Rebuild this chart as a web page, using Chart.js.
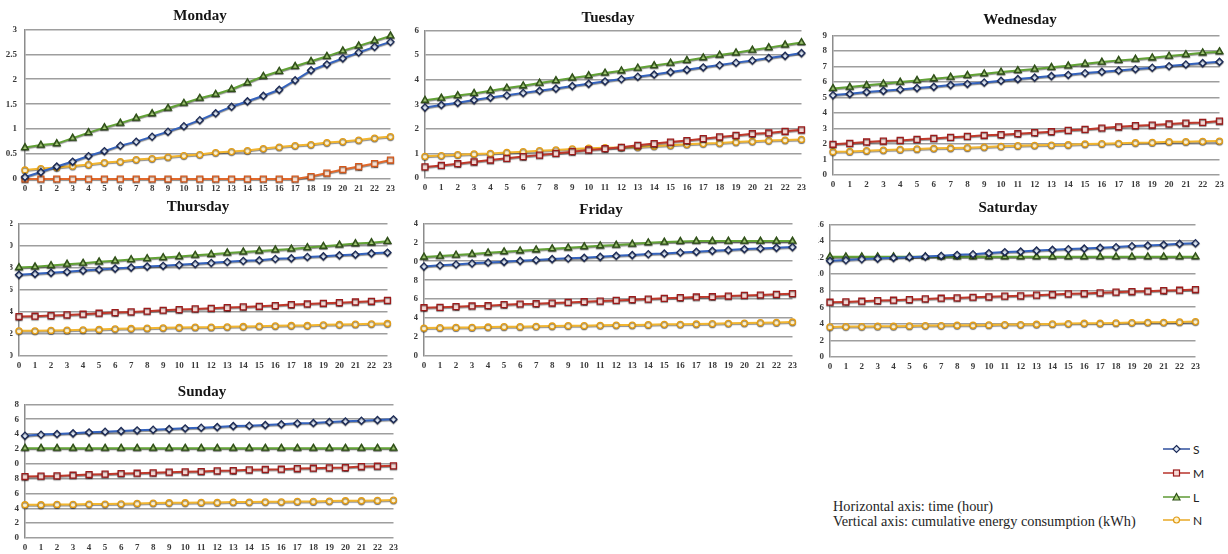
<!DOCTYPE html>
<html>
<head>
<meta charset="utf-8">
<script src="https://cdn.jsdelivr.net/npm/chart.js@4/dist/chart.umd.min.js"></script>
<style>
  html, body { margin: 0; padding: 0; background: #fff; }
  body { width: 1228px; height: 554px; position: relative; overflow: hidden; }
  .panel { position: absolute; overflow: hidden; }
  .panel canvas { position: absolute; top: 0; }
  .title { position: absolute; width: 200px; text-align: center; font: bold 15px/18px "Liberation Serif", "Times New Roman", serif; color: #151515; white-space: nowrap; }
  .note { position: absolute; left: 833px; font: 14.3px "Liberation Serif", "Times New Roman", serif; color: #1e1e1e; white-space: nowrap; line-height: 15px; }
  .key { position: absolute; left: 1163px; height: 14px; display: flex; align-items: center; }
  .key svg { display: block; }
  .key span { margin-left: 3px; font: 12px Lato, "Liberation Sans", sans-serif; color: #222; }
</style>
</head>
<body>
<div id="charts"></div>

<div class="note" style="top:499px">Horizontal axis: time (hour)</div>
<div class="note" style="top:514px">Vertical axis: cumulative energy consumption (kWh)</div>

<div class="key" style="top:442px">
  <svg width="27" height="12"><line x1="0" y1="6" x2="27" y2="6" stroke="#2F4F9E" stroke-width="1.5"/><path d="M13.5 2.5 L17 6 L13.5 9.5 L10 6 Z" fill="#DCE6F5" stroke="#1B2A57" stroke-width="1.2"/></svg><span>S</span>
</div>
<div class="key" style="top:466px">
  <svg width="27" height="12"><line x1="0" y1="6" x2="27" y2="6" stroke="#B8332B" stroke-width="1.5"/><rect x="10.5" y="3" width="6" height="6" fill="#F6D9D5" stroke="#9B1B1B" stroke-width="1.2"/></svg><span>M</span>
</div>
<div class="key" style="top:490px">
  <svg width="27" height="12"><line x1="0" y1="6" x2="27" y2="6" stroke="#5E9A35" stroke-width="1.5"/><path d="M13.5 2.5 L17 9 L10 9 Z" fill="#A9D37A" stroke="#2F5117" stroke-width="1.2"/></svg><span>L</span>
</div>
<div class="key" style="top:513px">
  <svg width="27" height="12"><line x1="0" y1="6" x2="27" y2="6" stroke="#E9A825" stroke-width="1.5"/><circle cx="13.5" cy="6" r="3" fill="#FFF3CF" stroke="#E09A14" stroke-width="1.2"/></svg><span>N</span>
</div>

<script>
// Hour of day on the horizontal axis
const hours = ['0','1','2','3','4','5','6','7','8','9','10','11','12','13','14','15','16','17','18','19','20','21','22','23'];
const seriesNames = ['S', 'M', 'L', 'N'];

// Cumulative energy consumption (kWh), one array per day and series
const mondayS = [0.04,0.14,0.25,0.35,0.46,0.56,0.67,0.75,0.85,0.95,1.06,1.18,1.32,1.45,1.56,1.67,1.79,1.98,2.18,2.30,2.42,2.54,2.65,2.75];
const mondayM = [0,0,0,0,0,0,0,0,0,0,0,0,0,0,0,0,0,0,0.05,0.12,0.19,0.25,0.31,0.38];
const mondayL = [0.63,0.68,0.71,0.82,0.93,1.03,1.12,1.22,1.31,1.42,1.52,1.62,1.70,1.80,1.93,2.06,2.16,2.26,2.36,2.46,2.57,2.67,2.77,2.87];
const mondayN = [0.18,0.21,0.23,0.26,0.29,0.33,0.35,0.39,0.41,0.44,0.47,0.49,0.53,0.55,0.57,0.61,0.64,0.67,0.69,0.73,0.75,0.78,0.82,0.85];

const tuesdayS = [2.87,2.97,3.06,3.17,3.27,3.36,3.46,3.55,3.64,3.74,3.83,3.93,4.02,4.12,4.21,4.31,4.40,4.50,4.59,4.69,4.78,4.88,4.97,5.08];
const tuesdayM = [0.45,0.51,0.58,0.66,0.73,0.80,0.87,0.93,1.00,1.07,1.14,1.19,1.25,1.33,1.40,1.46,1.52,1.60,1.67,1.73,1.80,1.83,1.90,1.96];
const tuesdayL = [3.16,3.25,3.35,3.44,3.55,3.66,3.75,3.86,3.96,4.07,4.16,4.27,4.36,4.47,4.57,4.67,4.78,4.89,5.00,5.09,5.20,5.30,5.41,5.51];
const tuesdayN = [0.88,0.91,0.95,0.98,1.00,1.04,1.07,1.11,1.14,1.18,1.21,1.23,1.24,1.26,1.30,1.33,1.37,1.40,1.42,1.46,1.49,1.52,1.54,1.57];

const wednesdayS = [5.15,5.24,5.35,5.43,5.52,5.61,5.69,5.80,5.88,5.97,6.08,6.19,6.29,6.38,6.46,6.57,6.66,6.74,6.83,6.92,7.02,7.13,7.22,7.30];
const wednesdayM = [1.98,2.04,2.13,2.19,2.23,2.30,2.36,2.43,2.49,2.56,2.60,2.66,2.73,2.79,2.88,2.94,3.03,3.11,3.18,3.22,3.29,3.35,3.39,3.48];
const wednesdayL = [5.58,5.67,5.78,5.88,5.99,6.10,6.21,6.31,6.42,6.53,6.64,6.74,6.83,6.94,7.04,7.17,7.28,7.39,7.47,7.56,7.67,7.77,7.88,7.95];
const wednesdayN = [1.50,1.52,1.57,1.61,1.65,1.68,1.72,1.74,1.76,1.80,1.85,1.89,1.91,1.93,1.95,2.00,2.02,2.04,2.08,2.10,2.15,2.15,2.17,2.19];

const thursdayS = [7.35,7.44,7.53,7.62,7.74,7.83,7.92,8.01,8.10,8.16,8.25,8.34,8.43,8.52,8.61,8.67,8.79,8.85,8.97,9.03,9.12,9.18,9.30,9.36];
const thursdayM = [3.57,3.60,3.66,3.72,3.78,3.87,3.93,3.99,4.05,4.14,4.20,4.26,4.32,4.38,4.44,4.50,4.56,4.65,4.71,4.77,4.83,4.89,4.95,5.04];
const thursdayL = [8.01,8.07,8.19,8.31,8.40,8.52,8.61,8.73,8.82,8.91,9.00,9.12,9.21,9.33,9.42,9.51,9.60,9.69,9.81,9.93,10.05,10.17,10.26,10.38];
const thursdayN = [2.28,2.28,2.31,2.34,2.37,2.40,2.46,2.49,2.52,2.55,2.58,2.61,2.61,2.64,2.67,2.70,2.73,2.76,2.76,2.82,2.85,2.88,2.91,2.94];

const fridayS = [9.46,9.57,9.67,9.78,9.88,9.95,10.06,10.13,10.24,10.31,10.38,10.48,10.59,10.66,10.76,10.83,10.94,11.01,11.11,11.19,11.29,11.36,11.43,11.50];
const fridayM = [5.10,5.14,5.21,5.28,5.31,5.42,5.49,5.52,5.59,5.66,5.73,5.80,5.87,5.94,6.01,6.09,6.16,6.23,6.26,6.33,6.40,6.44,6.51,6.58];
const fridayL = [10.45,10.55,10.66,10.76,10.90,11.01,11.11,11.22,11.33,11.43,11.54,11.64,11.71,11.82,11.96,12.03,12.10,12.13,12.13,12.13,12.13,12.13,12.13,12.13];
const fridayN = [2.95,2.99,3.02,3.02,3.06,3.10,3.10,3.13,3.17,3.20,3.20,3.24,3.27,3.27,3.31,3.34,3.34,3.38,3.41,3.45,3.48,3.52,3.55,3.59];

const saturdayS = [11.61,11.69,11.81,11.89,11.97,12.05,12.13,12.21,12.33,12.41,12.54,12.66,12.74,12.86,12.94,13.02,13.10,13.18,13.26,13.38,13.46,13.54,13.66,13.74];
const saturdayM = [6.61,6.65,6.73,6.81,6.85,6.93,7.01,7.09,7.13,7.21,7.26,7.34,7.38,7.46,7.54,7.62,7.66,7.74,7.82,7.90,7.94,8.02,8.06,8.14];
const saturdayL = [12.1,12.1,12.1,12.1,12.1,12.1,12.1,12.1,12.1,12.1,12.1,12.1,12.1,12.1,12.1,12.1,12.1,12.1,12.1,12.1,12.1,12.1,12.1,12.1];
const saturdayN = [3.63,3.67,3.67,3.71,3.71,3.75,3.79,3.79,3.83,3.83,3.87,3.91,3.91,3.95,3.99,4.03,4.07,4.07,4.11,4.15,4.19,4.19,4.23,4.27];

const sundayS = [13.79,13.93,14.02,14.11,14.24,14.33,14.42,14.51,14.60,14.69,14.78,14.87,14.96,15.09,15.14,15.23,15.32,15.45,15.50,15.63,15.72,15.81,15.90,15.99];
const sundayM = [8.28,8.33,8.37,8.46,8.55,8.60,8.69,8.73,8.78,8.87,8.91,8.96,9.05,9.09,9.18,9.23,9.27,9.36,9.40,9.45,9.49,9.63,9.67,9.72];
const sundayL = [12.1,12.1,12.1,12.1,12.1,12.1,12.1,12.1,12.1,12.1,12.1,12.1,12.1,12.1,12.1,12.1,12.1,12.1,12.1,12.1,12.1,12.1,12.1,12.1];
const sundayN = [4.48,4.48,4.52,4.52,4.57,4.57,4.61,4.66,4.70,4.75,4.75,4.79,4.79,4.84,4.84,4.88,4.88,4.93,4.93,4.97,5.02,5.02,5.06,5.11];

// Y-axis ranges per day
const dayTitles = ['Monday','Tuesday','Wednesday','Thursday','Friday','Saturday','Sunday'];
const yMax  = [3, 6, 9, 12, 14, 16, 18];
const yStep = [0.5, 1, 1, 2, 2, 2, 2];

// Placement of each panel on the page: plot area edges, title centre, left clip edge
const frames = [
  { left: 25,  right: 390,  top: 29,  bottom: 179, tx: 200,  ty: 15,  clip: 0,    tickPad: 8 },
  { left: 425, right: 801,  top: 30,  bottom: 178, tx: 608,  ty: 17,  clip: null, tickPad: 6 },
  { left: 833, right: 1219, top: 35,  bottom: 175, tx: 1020, ty: 19,  clip: null, tickPad: 6 },
  { left: 19,  right: 387,  top: 223, bottom: 356, tx: 198,  ty: 206, clip: 10,   tickPad: 6 },
  { left: 424, right: 792,  top: 223, bottom: 356, tx: 601,  ty: 209, clip: 414,  tickPad: 6 },
  { left: 830, right: 1195, top: 224, bottom: 357, tx: 1008, ty: 207, clip: 818,  tickPad: 6 },
  { left: 25,  right: 393,  top: 404, bottom: 538, tx: 202,  ty: 391, clip: 14,   tickPad: 6 }
];

const dayData = [
  [mondayS, mondayM, mondayL, mondayN],
  [tuesdayS, tuesdayM, tuesdayL, tuesdayN],
  [wednesdayS, wednesdayM, wednesdayL, wednesdayN],
  [thursdayS, thursdayM, thursdayL, thursdayN],
  [fridayS, fridayM, fridayL, fridayN],
  [saturdayS, saturdayM, saturdayL, saturdayN],
  [sundayS, sundayM, sundayL, sundayN]
];

// Series styles: line colour, marker shape, marker outline, marker fill
const styles = {
  S: { line: '#3563BD', shape: 'rectRot',  edge: '#1B2A57', fill: '#DCE6F5', r: 3.5 },
  M: { line: '#C0392B', shape: 'rect',     edge: '#9B1B1B', fill: '#F6D9D5', r: 4.2 },
  L: { line: '#62A236', shape: 'triangle', edge: '#2F5117', fill: '#A9D37A', r: 4 },
  N: { line: '#F2B631', shape: 'circle',   edge: '#E39D16', fill: '#FFF3CF', r: 3 }
};
// Monday's M series is drawn in orange
const mondayM_style = { line: '#E2692B', shape: 'rect', edge: '#D4571A', fill: '#FBE2D2', r: 4.2 };

// Thin dark drop shadow under each series line
const lineShadow = {
  id: 'lineShadow',
  beforeDatasetDraw(chart) {
    const c = chart.ctx;
    c.save();
    c.shadowColor = 'rgba(0,0,0,0.45)';
    c.shadowOffsetX = 0;
    c.shadowOffsetY = 1;
    c.shadowBlur = 1;
  },
  afterDatasetDraw(chart) { chart.ctx.restore(); }
};

const tickFont = { family: '"Liberation Serif", "Times New Roman", serif', size: 9, weight: 'bold' };
const gridGray = '#9E9E9E';
// Plain number labels: 0, 0.5, 1, 1.5 ...
const plainNumber = v => String(Number(v.toFixed(2)));

const host = document.getElementById('charts');
const Y_AXIS_W = 32, PAD_R = 4, X_AXIS_H = 20, PAD_TOP = 8;

// Build one day's panel: a clipping wrapper holding the chart canvas
function buildPanel(f, i, g) {
  const wrapLeft = f.clip === null ? g.left : f.clip;
  const wrap = document.createElement('div');
  wrap.className = 'panel';
  wrap.style.left = wrapLeft + 'px';
  wrap.style.top = g.top + 'px';
  wrap.style.width = (g.left + g.width - wrapLeft) + 'px';
  wrap.style.height = g.height + 'px';
  const cv = document.createElement('canvas');
  cv.width = g.width; cv.height = g.height;
  cv.style.width = g.width + 'px'; cv.style.height = g.height + 'px';
  cv.style.left = (g.left - wrapLeft) + 'px';
  wrap.appendChild(cv);
  host.appendChild(wrap);

  const datasets = seriesNames.map((name, k) => {
    const st = (i === 0 && name === 'M') ? mondayM_style : styles[name];
    return {
      label: name,
      data: dayData[i][k],
      borderColor: st.line,
      borderWidth: 2,
      pointStyle: st.shape,
      pointRadius: st.r,
      pointBorderColor: st.edge,
      pointBackgroundColor: st.fill,
      pointBorderWidth: 1.3,
      tension: 0,
      clip: 6
    };
  });

  const chart = new Chart(cv, {
    type: 'line',
    data: { labels: hours, datasets },
    plugins: [lineShadow],
    options: {
      responsive: false,
      maintainAspectRatio: false,
      animation: false,
      devicePixelRatio: 1,
      layout: { autoPadding: false, padding: { left: 0, right: PAD_R, top: PAD_TOP, bottom: 0 } },
      plugins: {
        legend: { display: false },
        tooltip: { enabled: false },
        title: { display: false }
      },
      scales: {
        x: {
          offset: false,
          grid: { display: false, drawTicks: false },
          border: { display: false },
          ticks: { autoSkip: false, maxRotation: 0, padding: 4, color: '#3A3A3A', font: tickFont },
          afterFit(scale) { scale.height = X_AXIS_H; }
        },
        y: {
          min: 0,
          max: yMax[i],
          ticks: { stepSize: yStep[i], padding: f.tickPad, color: '#3A3A3A', font: tickFont, callback: plainNumber },
          grid: { color: gridGray, lineWidth: 1.6, drawTicks: false },
          border: { display: true, color: '#8C8C8C', width: 1.5 },
          afterFit(scale) { scale.width = Y_AXIS_W; }
        }
      }
    }
  });
  return { chart, wrap };
}

frames.forEach((f, i) => {
  let g = {
    left: f.left - Y_AXIS_W,
    top: f.top - PAD_TOP,
    width: Math.round(f.right - (f.left - Y_AXIS_W) + PAD_R),
    height: Math.round(f.bottom - (f.top - PAD_TOP) + X_AXIS_H)
  };
  let built = buildPanel(f, i, g);

  // Check where the axis ends really landed; rebuild once with the canvas
  // shifted/resized so the plot spans exactly the intended frame.
  const xs = built.chart.scales.x, ys = built.chart.scales.y;
  const dTop = ys.getPixelForValue(yMax[i]) - (f.top - g.top);
  const dBot = ys.getPixelForValue(0) - (f.bottom - g.top);
  const dLeft = xs.getPixelForValue(0) - (f.left - g.left);
  const dRight = xs.getPixelForValue(hours.length - 1) - (f.right - g.left);
  if ([dTop, dBot, dLeft, dRight].some(d => Math.abs(d) > 0.3)) {
    built.chart.destroy();
    built.wrap.remove();
    g = {
      left: Math.round(g.left - dLeft),
      top: Math.round(g.top - dTop),
      width: Math.round(g.width + dLeft - dRight),
      height: Math.round(g.height + dTop - dBot)
    };
    built = buildPanel(f, i, g);
  }

  // Day title above the panel
  const t = document.createElement('div');
  t.className = 'title';
  t.textContent = dayTitles[i];
  t.style.left = (f.tx - 100) + 'px';
  t.style.top = (f.ty - 9) + 'px';
  document.body.appendChild(t);
});
</script>
</body>
</html>
